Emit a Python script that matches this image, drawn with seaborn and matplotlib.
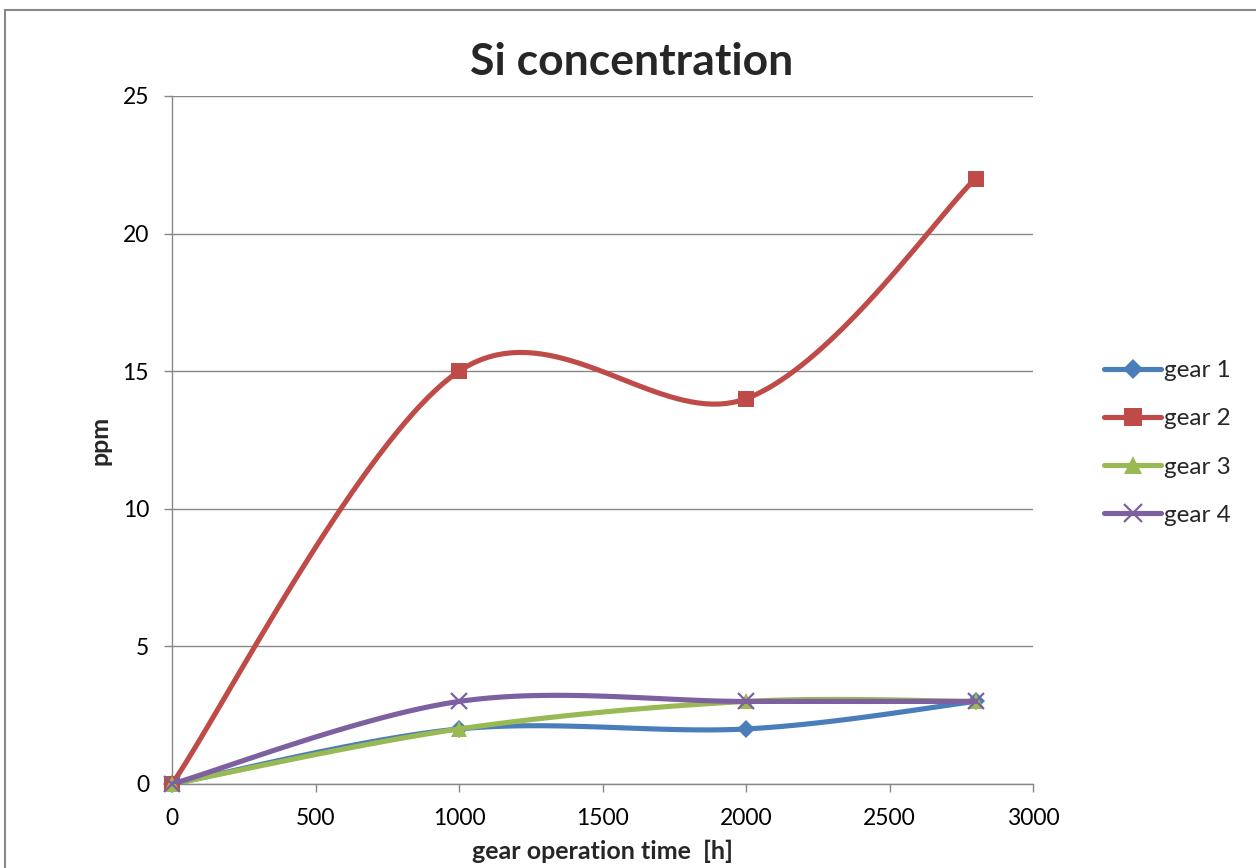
import numpy as np
import pandas as pd
import matplotlib
matplotlib.use("Agg")
import matplotlib.pyplot as plt
from matplotlib.lines import Line2D
from matplotlib.patches import Rectangle
import seaborn as sns

hours = [0, 1000, 2000, 2800]
gear1 = [0, 2, 2, 3]
gear2 = [0, 15, 14, 22]
gear3 = [0, 2, 3, 3]
gear4 = [0, 3, 3, 3]
series_names = ["gear 1", "gear 2", "gear 3", "gear 4"]
series_vals = [gear1, gear2, gear3, gear4]
colors = ["#4A7EBB", "#BE4B48", "#98B954", "#7D60A0"]
markers = ["D", "s", "^", "x"]
msizes = [9.5, 12, 12, 12]

sns.set_theme(style="white")
plt.rcParams["font.family"] = ["Lato", "DejaVu Sans"]

def smooth(xs, ys, n=40):
    P = np.column_stack([xs, ys]).astype(float)
    m = len(P)
    out = []
    for i in range(m - 1):
        p0 = P[i - 1] if i > 0 else P[i]
        p1 = P[i]
        p2 = P[i + 1]
        p3 = P[i + 2] if i + 2 < m else P[i + 1]
        c1 = p1 + (p2 - p0) / 6.0
        c2 = p2 - (p3 - p1) / 6.0
        t = np.linspace(0, 1, n)[:, None]
        seg = ((1 - t) ** 3) * p1 + 3 * ((1 - t) ** 2) * t * c1 + 3 * (1 - t) * t ** 2 * c2 + t ** 3 * p2
        if i > 0:
            seg = seg[1:]
        out.append(seg)
    return np.vstack(out)

fig = plt.figure(figsize=(12.56, 8.68), dpi=100)
ax = fig.add_axes([172 / 1256, 84 / 868, 861 / 1256, 688 / 868])

gridc = "#878787"
LW = 3.7
for i, (name, vals) in enumerate(zip(series_names, series_vals)):
    curve = smooth(hours, vals)
    df = pd.DataFrame({"x": curve[:, 0], "y": curve[:, 1]})
    sns.lineplot(data=df, x="x", y="y", ax=ax, sort=False, estimator=None,
                 color=colors[i], lw=LW, zorder=3 + i)
    pts = pd.DataFrame({"x": hours, "y": vals})
    if markers[i] == "x":
        ax.plot(pts["x"], pts["y"], ls="none", marker="x", ms=msizes[i], mew=1.6,
                color=colors[i], zorder=3 + i, clip_on=False)
    else:
        ax.plot(pts["x"], pts["y"], ls="none", marker=markers[i], ms=msizes[i], mew=0,
                color=colors[i], zorder=3 + i, clip_on=False)

ax.set_xlim(0, 3000)
ax.set_ylim(0, 25)
ax.set_xticks([0, 500, 1000, 1500, 2000, 2500, 3000])
ax.set_yticks([0, 5, 10, 15, 20, 25])
ax.yaxis.grid(True, color=gridc, lw=1.0)
ax.xaxis.grid(False)
for s in ["top", "right"]:
    ax.spines[s].set_visible(False)
for s in ["left", "bottom"]:
    ax.spines[s].set_color(gridc)
    ax.spines[s].set_linewidth(1.0)
ax.tick_params(axis="both", which="major", direction="out", length=5.5, width=1.0,
               color=gridc, labelsize=16.5, labelcolor="black", bottom=True, left=True)
ax.tick_params(axis="x", pad=12)
ax.tick_params(axis="y", pad=11)
ax.set_xlabel("gear operation time  [h]", fontsize=18, fontweight="bold", va="center")
ax.set_ylabel("ppm", fontsize=18, fontweight="bold", va="center")
ax.xaxis.set_label_coords(603 / 1256, 1 - 851 / 868, transform=fig.transFigure)
ax.yaxis.set_label_coords(100 / 1256, 1 - 440 / 868, transform=fig.transFigure)

fig.text(632 / 1256, 1 - 62 / 868, "Si concentration", ha="center", va="center",
         fontsize=32, fontweight="bold")

handles = []
for i in range(4):
    if markers[i] == "x":
        h = Line2D([], [], color=colors[i], lw=LW, marker="x", ms=msizes[i] + 1, mew=1.6)
    else:
        h = Line2D([], [], color=colors[i], lw=LW, marker=markers[i], ms=msizes[i] + 1, mew=0)
    handles.append(h)
fig.legend(handles, series_names, loc="center left", bbox_to_anchor=(1104 / 1256, 1 - 443 / 868),
           frameon=False, fontsize=17.5, handlelength=2.35, handletextpad=0.12,
           labelspacing=1.12, borderpad=0, borderaxespad=0, markerscale=1.0)

fig.patches.append(Rectangle((5 / 1256, -0.2), 1.5, 0.2 + (1 - 10 / 868),
                             transform=fig.transFigure, fill=False, ec=gridc, lw=1.5))

fig.savefig("out.png", dpi=100)
